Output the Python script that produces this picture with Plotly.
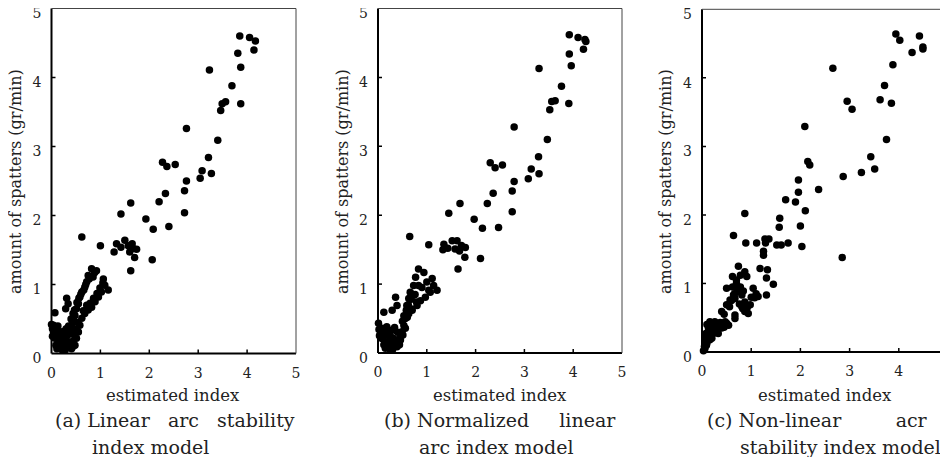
import plotly.graph_objects as go

# ---------------- data ----------------
tick_vals = [0, 1, 2, 3, 4, 5]
tick_text = ["0", "1", "2", "3", "4", "5"]

a_x = [3.85, 4.05, 4.17, 3.81, 4.14, 3.87, 3.23, 3.69, 3.56, 3.49, 3.46, 3.87, 2.76, 3.40, 3.21,
       2.27, 2.36, 2.53, 3.08, 3.04, 3.27, 2.76, 2.72, 2.33, 2.20, 1.62, 1.42, 2.72, 1.93, 2.08, 2.40,
       0.62, 1.00, 1.33, 1.42, 1.50, 1.57, 1.65, 1.67, 1.60, 1.74, 1.70, 1.28, 1.62, 2.06,
       0.82, 0.92, 0.75, 0.85, 0.72, 0.68, 0.62, 0.58, 0.55, 0.51, 0.48, 0.45, 0.41, 0.38, 0.34,
       1.06, 1.09, 1.16, 1.02, 0.96, 0.89, 0.82, 0.75, 0.68, 0.62, 0.58, 0.55, 0.51, 0.48,
       0.31, 0.34, 0.29, 0.07, 0.00,
       0.04, 0.11, 0.17, 0.24, 0.07, 0.14, 0.21, 0.11, 0.28, 0.38, 0.41, 0.17, 0.31, 0.04,
       0.02, 0.09, 0.14, 0.20, 0.26, 0.09, 0.16, 0.22, 0.33, 0.28, 0.24, 0.30, 0.35, 0.02, 0.13, 0.44,
       0.40, 0.44, 0.47, 0.52, 0.56, 0.60, 0.66, 0.70, 0.77, 0.88, 0.65, 0.72, 0.79, 0.86, 0.93,
       0.99, 1.05, 0.53, 0.50, 0.46, 0.44]
a_y = [4.60, 4.58, 4.53, 4.35, 4.40, 4.15, 4.11, 3.88, 3.65, 3.62, 3.52, 3.62, 3.26, 3.09, 2.84,
       2.77, 2.71, 2.74, 2.65, 2.54, 2.61, 2.50, 2.36, 2.32, 2.20, 2.18, 2.02, 2.04, 1.95, 1.80, 1.84,
       1.69, 1.56, 1.59, 1.54, 1.64, 1.56, 1.59, 1.52, 1.47, 1.51, 1.39, 1.47, 1.20, 1.36,
       1.23, 1.20, 1.13, 1.11, 1.04, 0.96, 0.89, 0.82, 0.72, 0.65, 0.55, 0.48, 0.41, 0.34, 0.27,
       1.08, 0.99, 0.92, 0.89, 0.82, 0.75, 0.67, 0.63, 0.58, 0.51, 0.41, 0.31, 0.22, 0.12,
       0.80, 0.72, 0.65, 0.59, 0.42,
       0.41, 0.36, 0.31, 0.27, 0.22, 0.17, 0.12, 0.07, 0.05, 0.15, 0.07, 0.19, 0.19, 0.31,
       0.36, 0.28, 0.25, 0.22, 0.20, 0.12, 0.09, 0.05, 0.10, 0.16, 0.32, 0.36, 0.40, 0.25, 0.40, 0.10,
       0.50, 0.58, 0.63, 0.74, 0.80, 0.86, 0.92, 1.00, 1.08, 1.17, 0.62, 0.70, 0.73, 0.80, 0.87,
       0.95, 1.02, 0.45, 0.35, 0.27, 0.18]

b_x = [3.92, 4.10, 4.24, 4.26, 3.92, 4.21, 3.96, 3.30, 3.76, 3.63, 3.56, 3.52, 3.91, 2.79, 3.47,
       3.29, 2.30, 2.40, 2.55, 3.14, 3.08, 3.30, 2.79, 2.75, 2.36, 2.24, 1.68, 1.45, 2.75, 1.97,
       2.14, 2.47,
       0.65, 1.04, 1.35, 1.43, 1.52, 1.62, 1.71, 1.58, 1.79, 1.33, 1.67, 1.78, 1.64, 2.10,
       0.83, 0.94, 0.77, 1.11, 1.14, 1.21, 1.07, 0.97, 0.87, 0.80, 0.70, 0.63, 0.56, 0.53, 0.49,
       0.46, 0.36, 0.39, 0.29, 0.12, 0.73, 0.66, 0.63, 0.59, 0.73, 0.83,
       0.01, 0.08, 0.15, 0.25, 0.08, 0.18, 0.29, 0.15, 0.39, 0.42, 0.32, 0.05, 0.46, 0.25,
       0.03, 0.11, 0.20, 0.27, 0.34, 0.12, 0.22, 0.30, 0.36, 0.44, 0.02, 0.18, 0.24, 0.40,
       0.50, 0.53, 0.58, 0.62, 0.68, 0.76, 0.90, 1.00, 1.04, 0.60, 0.69, 0.79, 0.56, 0.51]
b_y = [4.62, 4.58, 4.55, 4.52, 4.34, 4.41, 4.17, 4.13, 3.87, 3.66, 3.65, 3.53, 3.62, 3.28, 3.10,
       2.85, 2.76, 2.69, 2.73, 2.67, 2.53, 2.60, 2.49, 2.35, 2.32, 2.17, 2.17, 2.03, 2.05, 1.94,
       1.81, 1.82,
       1.69, 1.57, 1.58, 1.52, 1.63, 1.63, 1.56, 1.51, 1.53, 1.50, 1.48, 1.39, 1.22, 1.37,
       1.22, 1.17, 1.10, 1.08, 0.98, 0.91, 0.88, 0.81, 0.76, 0.69, 0.62, 0.57, 0.50, 0.40, 0.31,
       0.19, 0.81, 0.69, 0.62, 0.59, 0.98, 0.88, 0.79, 0.69, 0.84, 0.98,
       0.43, 0.36, 0.31, 0.26, 0.21, 0.16, 0.12, 0.07, 0.09, 0.19, 0.21, 0.28, 0.26, 0.04,
       0.25, 0.24, 0.27, 0.33, 0.37, 0.12, 0.08, 0.05, 0.14, 0.12, 0.34, 0.38, 0.20, 0.30,
       0.46, 0.54, 0.62, 0.70, 0.78, 0.85, 0.95, 1.03, 0.91, 0.52, 0.64, 0.74, 0.36, 0.26]

c_x = [3.94, 4.02, 4.42, 4.27, 4.49, 4.49, 3.88, 3.71, 3.62, 3.85, 3.75, 2.66, 2.95, 3.05, 2.09,
       3.43, 3.51, 3.24, 2.87, 2.15, 2.19, 1.96, 2.37, 1.96, 1.70, 1.90, 2.10, 0.87, 1.58, 1.57,
       2.00, 2.85,
       0.64, 0.89, 1.11, 1.28, 1.36, 1.29, 1.52, 1.61, 1.75, 2.03, 1.25, 1.25,
       0.74, 0.87, 0.62, 0.91, 1.18, 1.33, 1.31, 1.45, 1.31, 1.04, 1.14, 0.70, 0.74, 0.50, 0.64,
       0.57, 0.81, 0.87, 0.98, 0.81, 0.87, 0.94, 0.40, 0.50, 0.67, 0.67, 0.67, 0.74, 0.50,
       0.16, 0.26, 0.37, 0.47, 0.20, 0.30, 0.40, 0.13, 0.23, 0.33, 0.09, 0.20, 0.06, 0.16, 0.09,
       0.06, 0.54, 0.13,
       0.03, 0.05, 0.10, 0.12, 0.18, 0.25, 0.28, 0.35, 0.42, 0.15, 0.08, 0.22, 0.45, 0.10,
       0.60, 0.66, 0.72, 0.78, 0.84, 0.62, 0.70, 0.76, 0.83, 0.92, 0.56, 0.45, 1.00, 1.07,
       0.78, 1.10]
c_y = [4.64, 4.55, 4.61, 4.37, 4.45, 4.42, 4.19, 3.89, 3.68, 3.63, 3.10, 4.14, 3.66, 3.54, 3.29,
       2.85, 2.67, 2.62, 2.56, 2.78, 2.73, 2.51, 2.37, 2.33, 2.22, 2.19, 2.06, 2.02, 1.95, 1.82,
       1.84, 1.38,
       1.70, 1.59, 1.59, 1.65, 1.65, 1.59, 1.56, 1.56, 1.59, 1.54, 1.47, 1.41,
       1.25, 1.17, 1.10, 1.10, 1.22, 1.20, 1.08, 0.99, 0.83, 0.93, 0.81, 1.00, 0.93, 0.93, 0.83,
       0.76, 0.83, 0.73, 0.69, 0.66, 0.59, 0.56, 0.59, 0.69, 0.54, 0.49, 0.78, 0.88, 0.42,
       0.44, 0.44, 0.43, 0.44, 0.37, 0.35, 0.35, 0.30, 0.27, 0.27, 0.22, 0.20, 0.15, 0.18, 0.10,
       0.05, 0.39, 0.35,
       0.02, 0.08, 0.13, 0.20, 0.25, 0.32, 0.40, 0.38, 0.40, 0.30, 0.27, 0.38, 0.36, 0.40,
       0.75, 0.85, 0.90, 0.95, 0.89, 0.95, 1.05, 0.70, 0.63, 0.65, 0.66, 0.55, 0.80, 0.79,
       1.12, 0.85]

panels = [("(a)", a_x, a_y), ("(b)", b_x, b_y), ("(c)", c_x, c_y)]
NB = "\u00a0"
captions = [
    ("(a) Linear" + NB * 3 + "arc" + NB * 3 + "stability", "index model"),
    ("(b) Normalized" + NB * 5 + "linear", "arc index model"),
    ("(c) Non-linear" + NB * 9 + "acr", "stability index model"),
]
x_title = "estimated index"
y_title = "amount of spatters (gr/min)"

# ---------------- layout geometry ----------------
# positions below are in reference-image pixels; the page shows the figure shifted by
# the default 8 px body margin, so they are converted with OFF.
W, H = 948, 457
OFF = 8
FONT = "DejaVu Serif"
boxes = [(51.5, 296.0, 8.5, 353.5), (378.0, 622.0, 8.5, 353.0), (702.0, 948.0, 9.3, 352.0)]
ytitle_x = [15, 342, 665]
xtitle_c = [173, 500, 825]
cap1_left = [53, 382, 705]
cap2_left = [90, 417, 738]


def px(x):
    return (x - OFF) / W


def py(y):
    return 1 - (y - OFF) / H


fig = go.Figure()
annotations = []
shapes = []
TICK = 4  # tick length, px
for i, ((lbl, xs, ys), (l, r, t, b)) in enumerate(zip(panels, boxes)):
    n = "" if i == 0 else str(i + 1)
    fig.add_trace(go.Scatter(x=xs, y=ys, mode="markers", xaxis="x" + n, yaxis="y" + n,
                             marker=dict(color="black", size=7.5, line=dict(width=0)),
                             cliponaxis=False, showlegend=False))
    ax = dict(range=[0, 5], tickvals=tick_vals, ticktext=tick_text, showgrid=False,
              zeroline=False, showline=False, ticks="", automargin=False,
              ticklabeloverflow="allow",
              tickfont=dict(family=FONT, size=14, color="#222"))
    fig.update_layout(**{
        "xaxis" + n: dict(ax, domain=[px(l), px(r)], anchor="y" + n, ticklabelstandoff=9),
        "yaxis" + n: dict(ax, domain=[py(b), py(t)], anchor="x" + n, ticklabelstandoff=9,
                          ticklabelshift=5),
    })
    # frame: heavy left/bottom axes, thin top/right
    shapes.append(dict(type="line", xref="paper", yref="paper", x0=px(l), x1=px(l),
                       y0=py(b), y1=py(t), line=dict(color="black", width=2)))
    shapes.append(dict(type="line", xref="paper", yref="paper", x0=px(l), x1=px(r),
                       y0=py(b), y1=py(b), line=dict(color="black", width=2)))
    shapes.append(dict(type="line", xref="paper", yref="paper", x0=px(l), x1=px(r),
                       y0=py(t), y1=py(t), line=dict(color="#444", width=1)))
    shapes.append(dict(type="line", xref="paper", yref="paper", x0=px(r), x1=px(r),
                       y0=py(b), y1=py(t), line=dict(color="#444", width=1)))
    # inward tick marks at the tick values
    for v in tick_vals[1:-1]:
        shapes.append(dict(type="line", xref="x" + n, yref="paper", x0=v, x1=v,
                           y0=py(b), y1=py(b - TICK), line=dict(color="black", width=1.5)))
        shapes.append(dict(type="line", xref="paper", yref="y" + n, x0=px(l), x1=px(l + TICK),
                           y0=v, y1=v, line=dict(color="black", width=1.5)))
    common = dict(xref="paper", yref="paper", showarrow=False, xanchor="center",
                  yanchor="middle")
    annotations.append(dict(common, text=y_title, textangle=-90, x=px(ytitle_x[i]),
                            y=py(182), font=dict(family=FONT, size=16, color="#222")))
    annotations.append(dict(common, text=x_title, x=px(xtitle_c[i]), y=py(395),
                            font=dict(family=FONT, size=16.5, color="#222")))
    annotations.append(dict(common, text=captions[i][0], x=px(cap1_left[i]), y=py(420),
                            xanchor="left", font=dict(family=FONT, size=19, color="#222")))
    annotations.append(dict(common, text=captions[i][1], x=px(cap2_left[i]), y=py(447),
                            xanchor="left", font=dict(family=FONT, size=19, color="#222")))

fig.update_layout(template="none", width=W, height=H, margin=dict(l=0, r=0, t=0, b=0),
                  paper_bgcolor="white", plot_bgcolor="white",
                  annotations=annotations, shapes=shapes)
fig.write_html("out.html")
